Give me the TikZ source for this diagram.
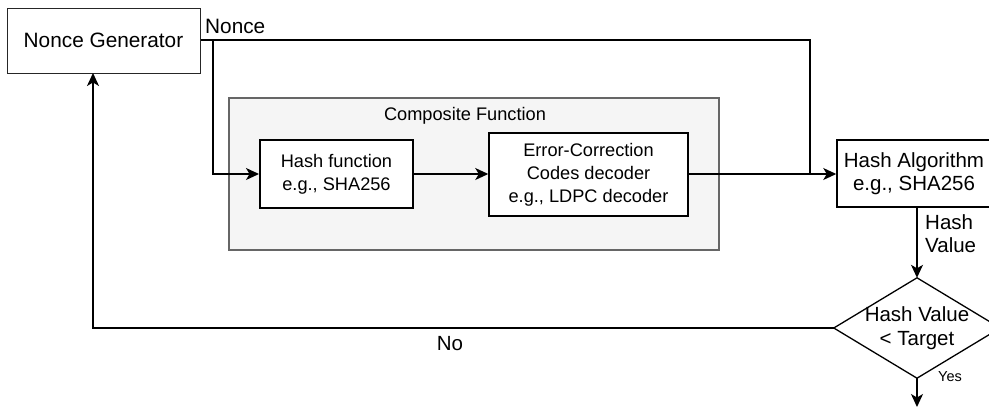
\documentclass[tikz,border=0pt]{standalone}
\usepackage{fontspec}
\setmainfont{Liberation Sans}
\usetikzlibrary{arrows.meta}
\begin{document}
\begin{tikzpicture}[x=1pt,y=-1pt,
  font=\fontsize{18.2}{23}\selectfont,
  big/.style={font=\fontsize{20.5}{23.5}\selectfont},
  box/.style={draw, fill=white, line width=1.5pt, align=center, inner sep=0pt},
  conn/.style={line width=1.3pt},
  arr/.style={conn, -{Stealth[length=13pt,width=12pt,inset=3.5pt]}},
  lbl/.style={inner sep=0pt, align=left}
]
\useasboundingbox (0,0) rectangle (989,408);
% container
\node[draw=black!60, fill=black!4, line width=1.5pt, minimum width=490pt, minimum height=152pt, inner sep=0pt] (comp) at (474,174) {};
\node[lbl] (comptitle) at (465,116) {Composite Function};
% boxes
\node[box, big, line width=1pt, draw=black!85, minimum width=193pt, minimum height=65pt, font=\fontsize{20.8}{24}\selectfont] (ng) at (103.5,40.5) {Nonce Generator};
\node[box, line width=2pt, minimum width=153pt, minimum height=68pt] (hf) at (336.5,174) {Hash function\\e.g., SHA256};
\node[box, minimum width=199pt, minimum height=83pt] (ec) at (588.5,174.5) {Error-Correction\\Codes decoder\\e.g., LDPC decoder};
\node[box, big, minimum width=154pt, minimum height=67pt] (ha) at (914,173.5) {Hash Algorithm\\e.g., SHA256};
% decision
\node[big, minimum width=166pt, minimum height=100pt, inner sep=0pt, align=center] (dec) at (917,328) {Hash Value\\{<} Target};
\draw[conn] (dec.north) -- (dec.east) -- (dec.south) -- (dec.west) -- cycle;
% coordinates
\coordinate (topr) at (810,40);
\coordinate (jn) at (810,174);
\coordinate (br) at (213,40);
\coordinate (brd) at (213,174);
\coordinate (nol) at (93,328);
\coordinate (nou) at (93,73);
\coordinate (yesend) at (917,407);
% connectors
\draw[conn] (ng.east |- topr) -- (topr) -- (jn);
\draw[arr] (br) -- (brd) -- (hf.west);
\draw[arr] (hf.east) -- (ec.west |- hf.east);
\draw[arr] (ec.east |- jn) -- (ha.west |- jn);
\draw[arr] (ha.south -| dec.north) -- (dec.north);
\draw[arr] (dec.west) -- (nol) -- (nou);
\draw[arr] (dec.south) -- (yesend);
% labels
\node[lbl, big, font=\fontsize{20.8}{24}\selectfont, anchor=west] (noncelbl) at (205,26) {Nonce};
\node[lbl, big, anchor=north west] (hvlbl) at (925,214) {Hash\\Value};
\node[lbl, big] (nolbl) at (450,344) {No};
\node[lbl, anchor=west, font=\fontsize{14.5}{17}\selectfont] (yeslbl) at (938,377) {Yes};
\end{tikzpicture}
\end{document}
